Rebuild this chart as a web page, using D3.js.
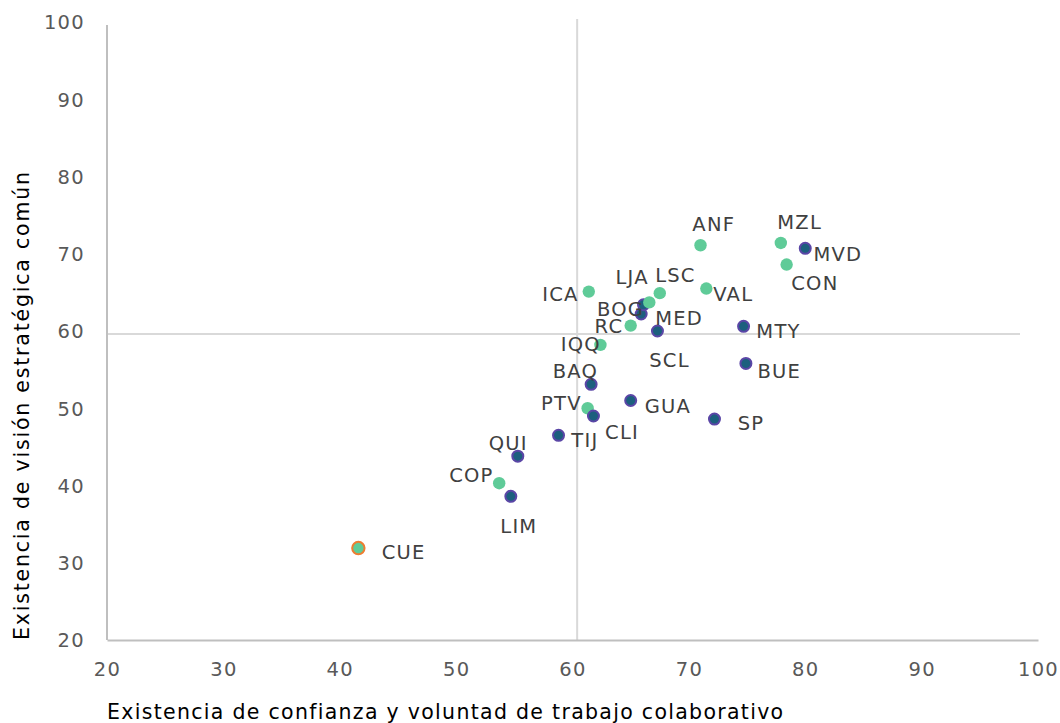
<!DOCTYPE html>
<html><head><meta charset="utf-8">
<script src="https://cdn.jsdelivr.net/npm/d3@7"></script>
<style>body{margin:0;background:#fff;} text{font-family:"DejaVu Sans",sans-serif;}</style>
</head><body>
<svg id="c" width="1060" height="723"></svg>
<script>
// Data
const cities = ["CUE","COP","LIM","QUI","TIJ","PTV","CLI","BAQ","GUA","SP","IQQ","RC","MED","BOG","BOG2","LJA","LSC","ICA","VAL","ANF","MZL","MVD","CON","MTY","BUE"];
const confianza = [41.6,53.7,54.7,55.3,58.8,61.3,61.8,61.6,65.0,72.2,62.4,65.0,67.3,65.9,66.1,66.6,67.5,61.4,71.5,71.0,77.9,80.0,78.4,74.7,74.9];
const vision    = [31.9,40.3,38.6,43.8,46.5,50.0,49.0,53.1,51.0,48.6,58.2,60.7,60.0,62.2,63.4,63.7,64.9,65.1,65.5,71.1,71.4,70.7,68.6,60.6,55.8];
const group     = ["orange","green","blue","blue","blue","green","blue","blue","blue","blue","green","green","blue","blue","blue","green","green","green","green","green","green","blue","green","blue","blue"];
// labels shown (text, left x value, centre y value)
const labelText = ["CUE","COP","LIM","QUI","TIJ","PTV","CLI","BAQ","GUA","SP","IQQ","RC","MED","SCL","BOG","LJA","LSC","ICA","VAL","ANF","MZL","MVD","CON","MTY","BUE"];
const labelX    = [43.6,49.4,53.8,52.8,59.9,57.3,62.8,58.3,66.2,74.2,59.0,61.9,67.1,66.6,62.1,63.7,67.1,57.4,72.1,70.3,77.6,80.7,78.8,75.8,75.9];
const labelY    = [31.4,41.4,34.8,45.5,45.9,50.7,46.9,54.8,50.3,48.1,58.3,60.6,61.7,56.2,62.8,67.0,67.2,64.8,64.8,73.9,74.1,70.0,66.2,60.0,54.8];
const xTicks = [20,30,40,50,60,70,80,90,100];
const yTicks = [20,30,40,50,60,70,80,90,100];
const refX = 60.4, refY = 59.6;

const svg = d3.select("#c");
const x = d3.scaleLinear().domain([20,100]).range([107,1038]);
const y = d3.scaleLinear().domain([20,100]).range([640,22]);

// reference lines
svg.append("line").attr("x1",x(refX)).attr("x2",x(refX)).attr("y1",19).attr("y2",640)
  .attr("stroke","#d9d9d9").attr("stroke-width",2);
svg.append("line").attr("x1",107).attr("x2",1020).attr("y1",y(refY)).attr("y2",y(refY))
  .attr("stroke","#d9d9d9").attr("stroke-width",2);

// axes
const xa = svg.append("g").attr("transform","translate(0,640)")
  .call(d3.axisBottom(x).tickValues(xTicks).tickSize(0).tickPadding(18).tickFormat(d3.format("d")));
const ya = svg.append("g").attr("transform","translate(107,0)")
  .call(d3.axisLeft(y).tickValues(yTicks).tickSize(0).tickPadding(22).tickFormat(d3.format("d")));
xa.select(".domain").attr("stroke","#bfbfbf").attr("stroke-width",2);
ya.select(".domain").attr("stroke","#bfbfbf").attr("stroke-width",2).attr("d","M0,25V640");
[xa,ya].forEach(a=>a.selectAll("text").attr("fill","#595959").style("font-size","19.5px")
  .style("font-family","'DejaVu Sans',sans-serif").style("letter-spacing","1.3px"));
xa.selectAll("text").attr("dy","0.9em");
ya.selectAll("text").attr("dy","0.35em");

// axis titles
svg.append("text").attr("x",107).attr("y",719).attr("fill","#000").style("font-size","20.5px")
  .style("letter-spacing","1.3px")
  .text("Existencia de confianza y voluntad de trabajo colaborativo");
svg.append("text").attr("transform","translate(29,640) rotate(-90)").attr("fill","#000").style("font-size","20.5px")
  .style("letter-spacing","1.8px")
  .text("Existencia de visión estratégica común");

// points
const pts = cities.map((c,i)=>({c, x:confianza[i], y:vision[i], g:group[i]}));
svg.append("g").selectAll("circle").data(pts).join("circle")
  .attr("cx",d=>x(d.x)).attr("cy",d=>y(d.y))
  .attr("r",d=>d.g==="blue"?5.5:6.2)
  .attr("fill",d=>d.g==="blue"?"#1c5f7e":"#5fcb98")
  .attr("stroke",d=>d.g==="blue"?"#5a46a6":(d.g==="orange"?"#ed7d31":"none"))
  .attr("stroke-width",d=>d.g==="green"?0:2);

// labels
const labs = labelText.map((t,i)=>({t, x:labelX[i], y:labelY[i]}));
svg.append("g").selectAll("text").data(labs).join("text")
  .attr("x",d=>x(d.x)).attr("y",d=>y(d.y)).attr("dy","0.36em")
  .attr("fill","#404040").style("font-size","19.5px").style("letter-spacing","1.2px")
  .text(d=>d.t);
</script>
</body></html>
